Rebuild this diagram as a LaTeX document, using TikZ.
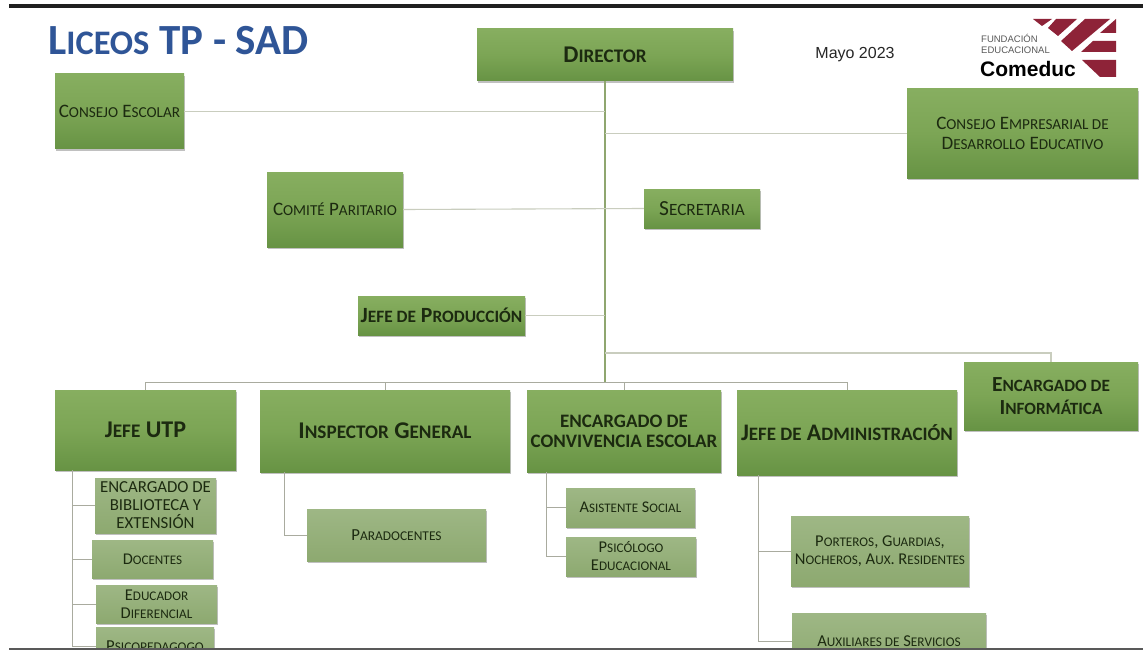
\documentclass[tikz,border=0pt]{standalone}
\usepackage{fontspec}
\setmainfont{Carlito}
\newfontfamily\arialf{Liberation Sans}
\usetikzlibrary{shadows}
\definecolor{gtop}{HTML}{87AE60}
\definecolor{gmid}{HTML}{7CA555}
\definecolor{gbot}{HTML}{679344}
\definecolor{ltop}{HTML}{9EB785}
\definecolor{lbot}{HTML}{8DA970}
\definecolor{wire}{HTML}{C9CDBE}
\definecolor{wirestrong}{HTML}{8FA66F}
\definecolor{wiregrey}{HTML}{A9AB9F}
\definecolor{titleblue}{HTML}{2F5597}
\definecolor{ink}{HTML}{1C2A10}
\definecolor{logored}{HTML}{8E2338}
\makeatletter
\newcommand{\smc}[1]{{\pgfmathsetmacro\smsz{\f@size*0.8}\fontsize{\smsz}{\f@baselineskip}\selectfont #1}}
\makeatother
\newcommand{\scfont}[1]{\pgfmathsetmacro\lsk{#1*1.09}\fontsize{#1}{\lsk}\selectfont}
\tikzset{
  x=1pt,y=-1pt,
  boxbase/.style={inner sep=0pt,align=center,text=ink,
    drop shadow={shadow xshift=0.6pt,shadow yshift=-1.6pt,opacity=.35,fill=black!70}},
  dark/.style={boxbase,top color=gtop,bottom color=gbot,middle color=gmid},
  pale/.style={boxbase,top color=ltop,bottom color=lbot},
  wireline/.style={draw=wire,line width=1.1pt},
  trunkline/.style={draw=wirestrong,line width=1.3pt},
  subline/.style={draw=wiregrey,line width=1pt},
  logopart/.style={fill=logored,draw=none},
  sc/.style={font=\scfont{#1}},
  scb/.style={font=\scfont{#1}\bfseries},
}
\newcommand{\orgbox}[7]{%
  \pgfmathsetlengthmacro{\bxw}{#4-#2}%
  \pgfmathsetlengthmacro{\bxh}{#5-#3}%
  \node[#6,minimum width=\bxw,minimum height=\bxh] (#1) at ({(#2+#4)/2},{(#3+#5)/2}) {#7};}
\begin{document}
\begin{tikzpicture}
\useasboundingbox (0,0) rectangle (1143,650);
\clip (0,0) rectangle (1143,650);
\fill[white] (0,0) rectangle (1143,650);
% top-level boxes
\orgbox{director}{477}{29}{733}{81}{dark,scb=24}{D\smc{IRECTOR}}
\orgbox{escolar}{55}{74}{184}{149}{dark,sc=19}{C\smc{ONSEJO} E\smc{SCOLAR}}
\orgbox{empresarial}{907}{89}{1138}{178}{dark,sc=19}{C\smc{ONSEJO} E\smc{MPRESARIAL DE}\\D\smc{ESARROLLO} E\smc{DUCATIVO}}
\orgbox{paritario}{267}{172}{403}{247}{dark,sc=19}{C\smc{OMITÉ} P\smc{ARITARIO}}
\orgbox{secretaria}{644}{189}{760}{228}{dark,sc=21.5}{S\smc{ECRETARIA}}
\orgbox{produccion}{358}{296}{525}{335}{dark,scb=21.7}{J\smc{EFE DE} P\smc{RODUCCIÓN}}
\orgbox{informatica}{964}{362}{1138}{430}{dark,scb=21.5}{E\smc{NCARGADO DE}\\I\smc{NFORMÁTICA}}
\orgbox{utp}{55}{390}{236}{470}{dark,scb=24}{J\smc{EFE} UTP}
\orgbox{inspector}{260}{390}{510}{472}{dark,scb=24}{I\smc{NSPECTOR} G\smc{ENERAL}}
\orgbox{convivencia}{527}{390}{721}{472}{dark,font=\fontsize{19}{20}\selectfont\bfseries}{ENCARGADO DE\\CONVIVENCIA ESCOLAR}
\orgbox{admin}{737}{390}{957}{475}{dark,scb=23.7}{J\smc{EFE DE} A\smc{DMINISTRACIÓN}}
% second-level boxes
\orgbox{biblioteca}{95}{478}{216}{533}{pale,font=\fontsize{16.8}{18}\selectfont}{ENCARGADO DE\\BIBLIOTECA Y\\EXTENSIÓN}
\orgbox{docentes}{92}{540}{213}{578}{pale,sc=16.4}{D\smc{OCENTES}}
\orgbox{educador}{96}{585}{217}{623}{pale,sc=16.5}{E\smc{DUCADOR}\\D\smc{IFERENCIAL}}
\orgbox{psicoped}{96}{627}{214}{665}{pale,sc=16.7}{P\smc{SICOPEDAGOGO}}
\orgbox{paradocentes}{307}{509}{486}{561}{pale,sc=16.8}{P\smc{ARADOCENTES}}
\orgbox{asistente}{566}{488}{695}{527}{pale,sc=16.3}{A\smc{SISTENTE} S\smc{OCIAL}}
\orgbox{psicologo}{566}{537}{696}{576}{pale,sc=16.5}{P\smc{SICÓLOGO}\\E\smc{DUCACIONAL}}
\orgbox{porteros}{791}{516}{969}{586}{pale,sc=16.5}{P\smc{ORTEROS}, G\smc{UARDIAS},\\N\smc{OCHEROS}, A\smc{UX}. R\smc{ESIDENTES}}
\orgbox{auxiliares}{792}{613}{986}{670}{pale,sc=16.6}{A\smc{UXILIARES DE} S\smc{ERVICIOS}}
% connectors
\coordinate (hub) at (605,382);
\coordinate (infoturn) at (605,353);
\draw[trunkline] (director.south) -- (hub);
\draw[wireline] (escolar.east) -- (escolar.east -| director.south);
\draw[wireline] (empresarial.west) -- (empresarial.west -| director.south);
\draw[wireline] (paritario.east) -- (secretaria.west);
\draw[wireline] (produccion.east) -- (produccion.east -| director.south);
\draw[wireline] (infoturn) -| (informatica.north);
\draw[subline] (hub) -| (utp.north);
\draw[subline] (hub) -| (inspector.north);
\draw[subline] (hub) -| (convivencia.north);
\draw[subline] (hub) -| (admin.north);
\coordinate (utpdrop) at ([xshift=18pt]utp.south west);
\coordinate (inspdrop) at ([xshift=25pt]inspector.south west);
\coordinate (convdrop) at ([xshift=20pt]convivencia.south west);
\coordinate (admdrop) at ([xshift=22pt]admin.south west);
\draw[subline] (utpdrop) |- (biblioteca.west);
\draw[subline] (utpdrop) |- (docentes.west);
\draw[subline] (utpdrop) |- (educador.west);
\draw[subline] (utpdrop) |- (psicoped.west);
\draw[subline] (inspdrop) |- (paradocentes.west);
\draw[subline] (convdrop) |- (asistente.west);
\draw[subline] (convdrop) |- (psicologo.west);
\draw[subline] (admdrop) |- (porteros.west);
\draw[subline] (admdrop) |- (auxiliares.west);
% title, date
\node[anchor=west,inner sep=0pt,text=titleblue,font=\fontsize{43}{46}\selectfont\bfseries] (title) at (48,41) {L\smc{ICEOS} TP - SAD};
\node[inner sep=0pt,text=black!85,font=\arialf\fontsize{16}{18}\selectfont] (date) at (855,55) {Mayo 2023};
% logo
\fill[logopart] (1033,19) -- (1052,19) -- (1042,26) -- cycle;
\fill[logopart] (1056,19) -- (1077,19) -- (1058,36) -- (1048,28) -- cycle;
\fill[logopart] (1085,19) -- (1110,19) -- (1072,51) -- (1061,41) -- cycle;
\fill[logopart] (1116,19) -- (1116,33) -- (1100,33) -- cycle;
\fill[logopart] (1093,41) -- (1116,41) -- (1116,52) -- (1081,52) -- cycle;
\fill[logopart] (1082,60) -- (1116,60) -- (1116,77) -- (1100,77) -- cycle;
\node[anchor=west,inner sep=0pt,text=black!65,font=\arialf\fontsize{9.5}{11}\selectfont] (logoa) at (981,38) {FUNDACIÓN};
\node[anchor=west,inner sep=0pt,text=black!65,font=\arialf\fontsize{9.5}{11}\selectfont] (logob) at (981,50) {EDUCACIONAL};
\node[anchor=west,inner sep=0pt,text=black,font=\arialf\fontsize{21}{23}\selectfont\bfseries] (logoc) at (980,69) {Comeduc};
% frame bars
\fill[black!88] (9,4) rectangle (1143,8);
\fill[black!65] (9,648) rectangle (1143,650);
\end{tikzpicture}
\end{document}
